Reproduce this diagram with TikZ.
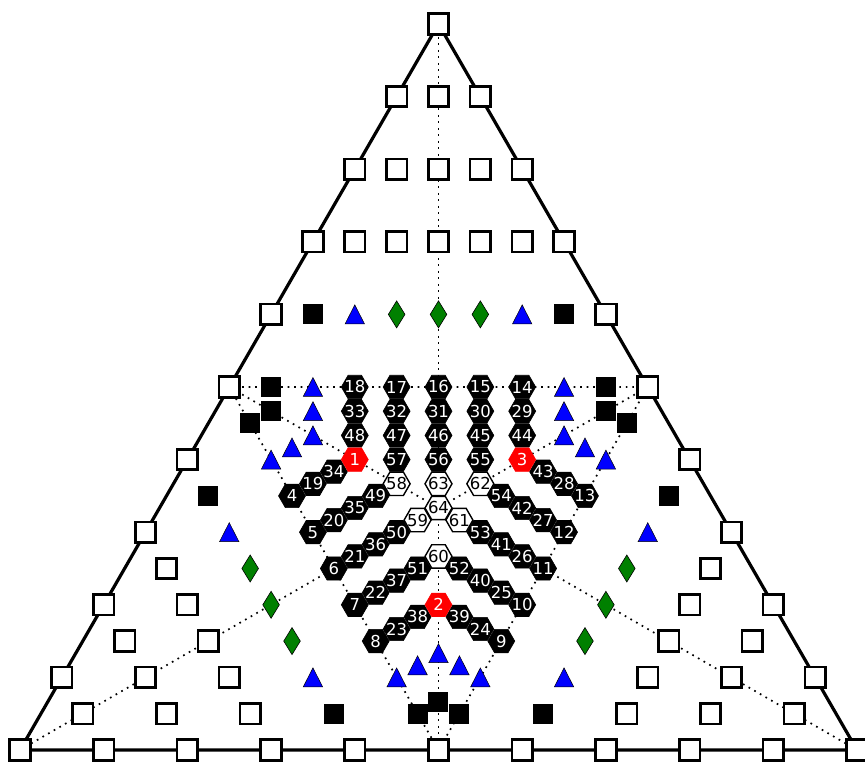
\documentclass[tikz,border=0pt]{standalone}
\usepackage{fontspec}
\setmainfont{DejaVu Sans}
\usetikzlibrary{shapes.geometric}
\begin{document}
\begin{tikzpicture}[x=20.925pt,y=12.1pt,
  edge/.style={line width=3.2pt,line cap=round,line join=round},
  guide/.style={line width=1.7pt,dash pattern=on 1.7pt off 4.8pt},
  wsq/.style={rectangle,draw=black,fill=white,line width=2.7pt,minimum size=20.5pt,inner sep=0pt},
  bsq/.style={rectangle,fill=black,minimum size=20pt,inner sep=0pt},
  tristyle/.style={fill=blue,draw=black,line width=0.5pt,line join=miter},
  diastyle/.style={fill={rgb,255:red,0;green,128;blue,0},draw=black,line width=0.6pt},
  hexbase/.style={regular polygon,regular polygon sides=6,minimum size=27pt,inner sep=0pt},
  hexk/.style={hexbase,fill=black,draw=black,line width=0.6pt,text=white},
  hexr/.style={hexbase,fill=red,draw=red,line width=0.6pt,text=white},
  hexw/.style={hexbase,fill=white,draw=black,line width=1.4pt,text=black},
]
\newcommand\hexlabel[1]{\makebox[0pt]{\fontsize{16.5pt}{17pt}\selectfont #1}}
\useasboundingbox (-20.9558,-0.99174) rectangle (20.3823,61.983);
% corners and edge midpoints
\coordinate (A) at (-20,0);
\coordinate (B) at (20,0);
\coordinate (C) at (0,60);
\coordinate (MAB) at (0,0);
\coordinate (MBC) at (10,30);
\coordinate (MCA) at (-10,30);
% dotted guides
\draw[guide] (MCA) -- (MBC) -- (MAB) -- cycle;
\draw[guide] (C) -- (MAB);
\draw[guide] (A) -- (MBC);
\draw[guide] (B) -- (MCA);
% triangle edges
\draw[edge] (A) -- (B) -- (C) -- cycle;
% white squares
\foreach \p [count=\k] in {(0,60),(-2,54),(0,54),(2,54),
  (-4,48),(-2,48),(0,48),(2,48),(4,48),
  (-6,42),(-4,42),(-2,42),(0,42),(2,42),(4,42),(6,42),
  (-8,36),(8,36),(-10,30),(10,30),(-12,24),(12,24),(-14,18),(14,18),
  (-13,15),(13,15),(-16,12),(-12,12),(12,12),(16,12),
  (-15,9),(-11,9),(11,9),(15,9),
  (-18,6),(-14,6),(-10,6),(10,6),(14,6),(18,6),
  (-17,3),(-13,3),(-9,3),(9,3),(13,3),(17,3),
  (-20,0),(-16,0),(-12,0),(-8,0),(-4,0),(0,0),(4,0),(8,0),(12,0),(16,0),(20,0)}
  \node[wsq] (w\k) at \p {};
% black squares
\foreach \p [count=\k] in {(-6,36),(6,36),(-8,30),(8,30),(-8,28),(8,28),(-9,27),(9,27),
  (-11,21),(11,21),(-5,3),(-1,3),(1,3),(5,3),(0,4)}
  \node[bsq] (b\k) at \p {};
% blue triangles
\foreach \p in {(-4,36),(4,36),(-6,30),(6,30),(-6,28),(6,28),(-6,26),(6,26),
  (-7,25),(7,25),(-8,24),(8,24),(-10,18),(10,18),
  (-6,6),(-2,6),(-1,7),(0,8),(1,7),(2,6),(6,6)}
  \draw[tristyle] \p ++(0pt,9.5pt) -- ++(-9.7pt,-19pt) -- ++(19.4pt,0pt) -- cycle;
% green diamonds
\foreach \p in {(-2,36),(0,36),(2,36),(-9,15),(9,15),(-8,12),(8,12),(-7,9),(7,9)}
  \draw[diastyle] \p ++(0pt,13.5pt) -- ++(-8.3pt,-13.5pt) -- ++(8.3pt,-13.5pt) -- ++(8.3pt,13.5pt) -- cycle;
% black hexagons
\foreach \n/\i/\j in {18/-4/30,33/-4/28,48/-4/26,
  17/-2/30,32/-2/28,47/-2/26,57/-2/24,
  16/0/30,31/0/28,46/0/26,56/0/24,
  15/2/30,30/2/28,45/2/26,55/2/24,
  14/4/30,29/4/28,44/4/26,
  34/-5/23,19/-6/22,4/-7/21,
  49/-3/21,35/-4/20,20/-5/19,5/-6/18,
  50/-2/18,36/-3/17,21/-4/16,6/-5/15,
  51/-1/15,37/-2/14,22/-3/13,7/-4/12,
  38/-1/11,23/-2/10,8/-3/9,
  43/5/23,28/6/22,13/7/21,
  54/3/21,42/4/20,27/5/19,12/6/18,
  53/2/18,41/3/17,26/4/16,11/5/15,
  52/1/15,40/2/14,25/3/13,10/4/12,
  39/1/11,24/2/10,9/3/9}
  \node[hexk] (h\n) at (\i,\j) {\hexlabel{\n}};
% red hexagons
\foreach \n/\i/\j in {1/-4/24,3/4/24,2/0/12}
  \node[hexr] (h\n) at (\i,\j) {\hexlabel{\n}};
% white hexagons
\foreach \n/\i/\j in {58/-2/22,59/-1/19,60/0/16,61/1/19,62/2/22,63/0/22,64/0/20}
  \node[hexw] (h\n) at (\i,\j) {\hexlabel{\n}};
\end{tikzpicture}
\end{document}
